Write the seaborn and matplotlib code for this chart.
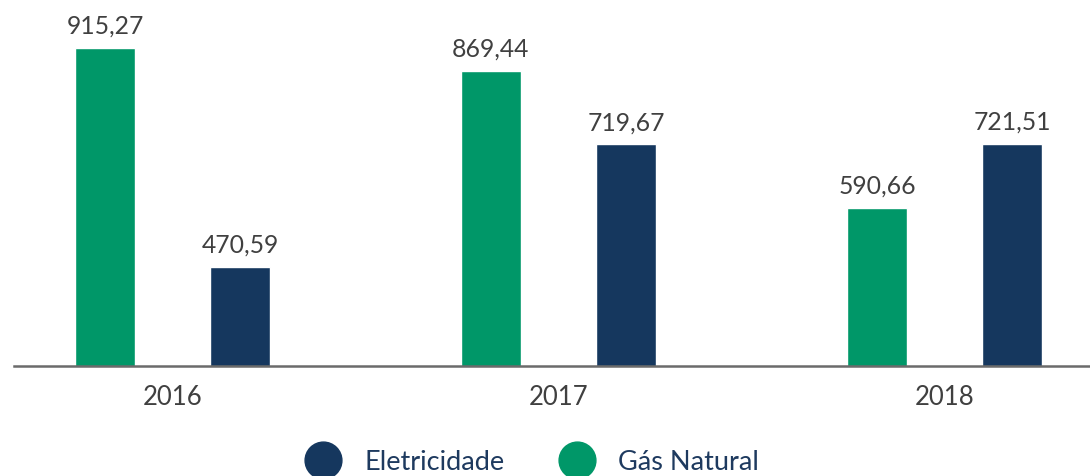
import matplotlib
matplotlib.use("Agg")
import matplotlib.pyplot as plt
from matplotlib.lines import Line2D
import seaborn as sns
import pandas as pd

years = ["2016", "2017", "2018"]
gas_natural = [915.27, 869.44, 590.66]
eletricidade = [470.59, 719.67, 721.51]
series_names = ["Gás Natural", "Eletricidade"]
legend_order = ["Eletricidade", "Gás Natural"]

GREEN = "#009768"
NAVY = "#15375E"
colors = {"Gás Natural": GREEN, "Eletricidade": NAVY}

df = pd.DataFrame({
    "ano": years * 2,
    "serie": ["Gás Natural"] * 3 + ["Eletricidade"] * 3,
    "valor": gas_natural + eletricidade,
})

sns.set_theme(style="white")
plt.rcParams["font.family"] = ["Lato", "DejaVu Sans"]

fig = plt.figure(figsize=(10.9, 4.77), dpi=100)
ax = fig.add_axes([14 / 1090, 1 - 367 / 477, 1 - 14 / 1090, 367 / 477])

sns.barplot(data=df, x="ano", y="valor", hue="serie", hue_order=series_names,
            order=years, palette=colors, width=0.7, gap=0.557, ax=ax,
            legend=False, saturation=1)

for cont, name in zip(ax.containers, series_names):
    vals = gas_natural if name == "Gás Natural" else eletricidade
    ax.bar_label(cont, labels=[f"{v:.2f}".replace(".", ",") for v in vals],
                 padding=8, fontsize=17.8, color="#404040")

ax.set_ylim(270, 1015)
ax.set_xlim(-0.4106, 2.377)
ax.set_xlabel("")
ax.set_ylabel("")
ax.set_yticks([])
for s in ["top", "left", "right"]:
    ax.spines[s].set_visible(False)
ax.spines["bottom"].set_color("#6b6b6b")
ax.spines["bottom"].set_linewidth(1.8)
ax.tick_params(axis="x", length=0, pad=13, labelsize=18.5, labelcolor="#404040")

handles = [Line2D([], [], marker="o", linestyle="none", markersize=26.5,
                  markerfacecolor=colors[n], markeredgecolor=colors[n])
           for n in legend_order]
leg = fig.legend(handles, legend_order, loc="center", ncol=2,
                 bbox_to_anchor=(0.489, 1 - 463 / 477), frameon=False,
                 fontsize=19.5, handlelength=1.2, handletextpad=0.93,
                 columnspacing=2.05, borderaxespad=0, borderpad=0)
for t in leg.get_texts():
    t.set_color("#1E3A5F")

fig.savefig("out.png", dpi=100)
